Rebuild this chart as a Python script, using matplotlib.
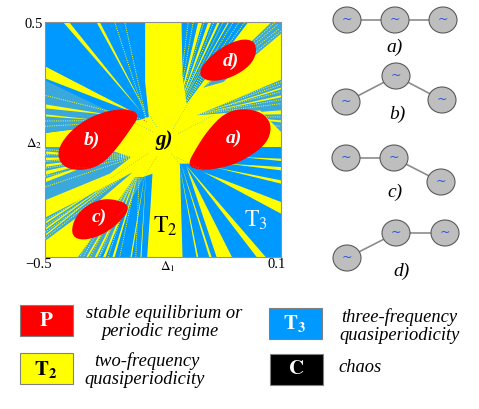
#!/usr/bin/env python3
"""Regime map on the (D1, D2) plane, chain sketches and colour key."""
import matplotlib
matplotlib.use("Agg")
import matplotlib.pyplot as plt
from matplotlib.patches import Ellipse, Polygon, Rectangle

plt.rcParams["font.family"] = ["Liberation Serif", "DejaVu Serif"]
plt.rcParams["mathtext.fontset"] = "stix"

RED = "#FF0000"
YELLOW = "#FFFF00"
BLUE = "#0099FF"
SPECKLE = "#3aa8dc"

# map extent, in units
X_EDGES = [136, 843]
Y_EDGES = [770, 65]

# blue sectors on the yellow ground
SECTOR_TL = [(136, 65), (436, 65), (436, 245), (447, 350), (400, 365), (136, 398)]
SECTOR_TR1 = [(545, 65), (745, 65), (560, 310), (548, 225)]
SECTOR_BR = [(843, 440), (843, 770), (548, 770), (540, 490), (570, 490), (700, 470), (780, 440)]
SECTOR_B = [(300, 770), (442, 770), (452, 620), (458, 520), (430, 530)]
SECTORS = [SECTOR_TL, SECTOR_TR1, SECTOR_BR, SECTOR_B]

# speckled sectors, a mix of blue and yellow
SPECK_TR2 = [(815, 65), (843, 65), (843, 100), (670, 245), (610, 262)]
SPECK_TR3 = [(843, 238), (843, 395), (780, 330), (590, 345)]
SPECK_B = [(235, 770), (300, 770), (430, 530), (405, 530)]
SPECK_L1 = [(136, 440), (136, 600), (330, 520), (395, 470), (300, 440)]
SPECK_L2 = [(136, 652), (136, 722), (300, 600), (400, 515)]
SPECK_TL = [(136, 240), (136, 398), (300, 375), (395, 365)]
SPECKS = [SPECK_TR2, SPECK_TR3, SPECK_B, SPECK_L1, SPECK_L2, SPECK_TL]

# yellow wedges: apex, then two points on the frame
WEDGE_APEX = [(425, 335), (438, 335), (410, 340), (340, 345), (300, 360),
              (530, 340), (530, 340), (530, 340), (530, 340),
              (610, 515), (555, 490), (560, 500), (540, 480), (640, 500), (680, 490), (720, 470), (535, 475),
              (425, 490), (425, 490), (425, 490), (425, 490), (440, 495), (440, 495),
              (330, 470), (330, 470), (330, 470), (330, 470), (330, 470),
              (380, 510), (380, 510), (380, 510),
              (600, 340), (600, 340), (640, 345), (640, 345)]
WEDGE_A = [(190, 65), (290, 65), (136, 198), (136, 312), (136, 342),
           (595, 65), (625, 65), (653, 65), (684, 65),
           (843, 605), (770, 770), (650, 770), (628, 770), (843, 540), (843, 500), (843, 475), (590, 770),
           (260, 770), (285, 770), (310, 770), (338, 770), (392, 770), (422, 770),
           (136, 453), (136, 472), (136, 492), (136, 512), (136, 535),
           (136, 665), (136, 684), (136, 703),
           (843, 262), (843, 285), (843, 330), (843, 360)]
WEDGE_B = [(208, 65), (300, 65), (136, 234), (136, 324), (136, 348),
           (607, 65), (635, 65), (660, 65), (688, 65),
           (843, 640), (797, 770), (696, 770), (635, 770), (843, 550), (843, 510), (843, 482), (595, 770),
           (266, 770), (292, 770), (318, 770), (345, 770), (396, 770), (425, 770),
           (136, 460), (136, 480), (136, 500), (136, 524), (136, 546),
           (136, 671), (136, 690), (136, 708),
           (843, 267), (843, 291), (843, 342), (843, 366)]

# dotted yellow fibres that make the speckled fans
DOT_APEX = [(530, 345), (530, 345), (530, 345), (530, 345), (530, 345), (530, 345), (530, 345), (530, 345),
            (620, 255), (640, 240), (660, 225), (675, 232),
            (570, 345), (570, 345), (570, 345), (570, 345), (570, 345), (570, 345), (570, 345),
            (420, 480), (420, 480), (420, 480), (420, 480), (420, 480), (420, 480), (420, 480),
            (420, 465), (420, 465), (420, 465), (420, 465), (420, 465), (420, 465),
            (400, 505), (400, 505), (400, 505), (400, 505),
            (440, 360), (440, 360), (440, 360), (440, 360), (440, 360)]
DOT_END = [(565, 65), (580, 65), (612, 65), (642, 65), (670, 65), (700, 65), (718, 65), (735, 65),
           (825, 65), (833, 72), (838, 85), (843, 92),
           (843, 245), (843, 254), (843, 274), (843, 298), (843, 310), (843, 350), (843, 378),
           (240, 770), (250, 770), (272, 770), (298, 770), (325, 770), (360, 770), (408, 770),
           (136, 448), (136, 463), (136, 483), (136, 503), (136, 528), (136, 560),
           (136, 660), (136, 678), (136, 696), (136, 715),
           (136, 285), (136, 362), (136, 378), (345, 65), (375, 65)]

# dotted blue fibres crossing the yellow near the centre
FIBRE_FROM = [(470, 380), (460, 395), (520, 385), (535, 400), (515, 460), (530, 470), (470, 470), (445, 460)]
FIBRE_TO = [(415, 285), (360, 345), (570, 300), (640, 345), (590, 560), (660, 540), (395, 595), (330, 535)]

# red regions
BLOB_A = [(568, 492), (590, 450), (625, 395), (675, 342), (730, 328), (785, 340), (810, 372),
          (803, 415), (770, 450), (705, 488), (630, 505), (590, 503)]
BLOB_B = [(416, 343), (380, 330), (325, 335), (260, 360), (205, 405), (176, 455), (190, 495),
          (240, 508), (300, 492), (345, 445), (385, 390)]
BLOB_C = [(390, 618), (340, 600), (298, 602), (252, 626), (224, 665), (220, 705), (250, 716),
          (302, 702), (352, 668)]
BLOB_D = [(600, 216), (628, 176), (675, 140), (725, 120), (760, 125), (766, 157), (748, 192),
          (705, 222), (655, 238), (618, 236)]
BLOBS = [BLOB_A, BLOB_B, BLOB_C, BLOB_D]
BLOB_LABELS = ["a)", "b)", "c)", "d)"]
BLOB_LABEL_X = [703, 277, 298, 692]
BLOB_LABEL_Y = [415, 420, 652, 183]

# red dust at the blob tips
DUST_FROM = [(572, 490), (580, 498), (412, 345), (405, 335), (600, 220), (385, 620), (230, 500)]
DUST_TO = [(615, 515), (630, 510), (440, 365), (380, 325), (580, 240), (350, 650), (275, 505)]

# chain sketches, figure pixels
CHAIN_X = [[347, 395, 443], [346, 396, 442], [346, 394, 441], [347, 396, 445]]
CHAIN_Y = [[20, 20, 20], [102, 76, 100], [158, 158, 182], [258, 233, 233]]
CHAIN_LABELS = ["a)", "b)", "c)", "d)"]
CHAIN_LABEL_X = [395, 397, 395, 402]
CHAIN_LABEL_Y = [47, 114, 192, 271]

# key
KEY_X = [20, 20, 269, 270]
KEY_Y = [305, 353, 308, 354]
KEY_COLOURS = [RED, YELLOW, BLUE, "black"]
KEY_TAGS = [r"$\mathbf{P}$", r"$\mathbf{T_2}$", r"$\mathbf{T_3}$", r"$\mathbf{C}$"]
KEY_TAG_COLOURS = ["white", "black", "white", "white"]
KEY_LINES = ["stable equilibrium or", "periodic regime", "two-frequency", "quasiperiodicity",
             "three-frequency", "quasiperiodicity", "chaos"]
KEY_LINE_X = [164, 160, 147, 145, 399, 400, 360]
KEY_LINE_Y = [313, 332, 361, 380, 317, 336, 367]


def smooth(pts, rounds=2):
    # corner cutting, keeps the outline
    for _ in range(rounds):
        out = []
        for i, (x0, y0) in enumerate(pts):
            x1, y1 = pts[(i + 1) % len(pts)]
            out.append((0.75 * x0 + 0.25 * x1, 0.75 * y0 + 0.25 * y1))
            out.append((0.25 * x0 + 0.75 * x1, 0.25 * y0 + 0.75 * y1))
        pts = out
    return pts


def draw_map(ax):
    ax.set_facecolor(YELLOW)
    for sector in SECTORS:
        ax.add_patch(Polygon(sector, fc=BLUE, ec="none", zorder=1))
    for sector in SPECKS:
        ax.add_patch(Polygon(sector, fc=SPECKLE, ec="none", zorder=1))
    for apex, a, b in zip(WEDGE_APEX, WEDGE_A, WEDGE_B):
        ax.add_patch(Polygon([apex, a, b], fc=YELLOW, ec="none", zorder=2))
    for apex, end in zip(DOT_APEX, DOT_END):
        ax.plot([apex[0], end[0]], [apex[1], end[1]], color=YELLOW, lw=0.7, ls=(0, (1, 1.3)), zorder=3)
    for a, b in zip(FIBRE_FROM, FIBRE_TO):
        ax.plot([a[0], b[0]], [a[1], b[1]], color="#55b8b0", lw=0.5, ls=(0, (1, 2.5)), zorder=3)
    for blob in BLOBS:
        ax.add_patch(Polygon(smooth(blob), fc=RED, ec=RED, lw=2, joinstyle="round", zorder=4))
    for a, b in zip(DUST_FROM, DUST_TO):
        ax.plot([a[0], b[0]], [a[1], b[1]], color="#d23c3c", lw=0.7, ls=(0, (1, 1.8)), zorder=4)
    for lab, x, y in zip(BLOB_LABELS, BLOB_LABEL_X, BLOB_LABEL_Y):
        ax.text(x, y, lab, color="white", fontsize=14, style="italic", weight="bold",
                ha="center", va="center", zorder=5)
    ax.text(493, 420, "g)", color="black", fontsize=15, style="italic", weight="bold",
            ha="center", va="center", zorder=5)
    ax.text(495, 678, r"$\mathrm{T_2}$", color="black", fontsize=17, ha="center", va="center", zorder=5)
    ax.text(768, 660, r"$\mathrm{T_3}$", color="white", fontsize=17, ha="center", va="center", zorder=5)

    ax.set_xlim(X_EDGES)
    ax.set_ylim(Y_EDGES)
    ax.set_xticks([])
    ax.set_yticks([])
    for s in ax.spines.values():
        s.set_color("#909090")
        s.set_linewidth(0.8)


def draw_chain(ov, xs, ys):
    ov.plot(xs, ys, color="#8c8c8c", lw=1.2, zorder=1)
    for x, y in zip(xs, ys):
        ov.add_patch(Ellipse((x, y), 28, 26, fc="#BEBEBE", ec="#5a5a5a", lw=0.8, zorder=2))
        ov.text(x, y - 1, "~", color="#2255dd", fontsize=9, ha="center", va="center", zorder=3,
                family="DejaVu Sans")


def main():
    fig = plt.figure(figsize=(4.79, 4.09), dpi=100, facecolor="white")
    ax = fig.add_axes([45 / 479, 1 - 257 / 409, 236 / 479, 235 / 409])
    draw_map(ax)

    ov = fig.add_axes([0, 0, 1, 1], facecolor="none")
    ov.set_xlim(0, 479)
    ov.set_ylim(409, 0)
    ov.axis("off")

    ov.text(25, 25, "0.5", fontsize=10.5, ha="left", va="center")
    ov.text(25, 265, "\u22120.5", fontsize=10.5, ha="left", va="center")
    ov.text(268, 264, "0.1", fontsize=10.5, ha="left", va="center")
    ov.text(168, 267, r"$\Delta_1$", fontsize=9.5, ha="center", va="center")
    ov.text(34, 144, r"$\Delta_2$", fontsize=9.5, ha="center", va="center")

    for xs, ys in zip(CHAIN_X, CHAIN_Y):
        draw_chain(ov, xs, ys)
    for lab, x, y in zip(CHAIN_LABELS, CHAIN_LABEL_X, CHAIN_LABEL_Y):
        ov.text(x, y, lab, fontsize=14, style="italic", ha="center", va="center")

    for x, y, c, tag, tc in zip(KEY_X, KEY_Y, KEY_COLOURS, KEY_TAGS, KEY_TAG_COLOURS):
        ov.add_patch(Rectangle((x, y), 53, 31, fc=c, ec="#808080", lw=0.8))
        ov.text(x + 26, y + 16, tag, color=tc, fontsize=15, ha="center", va="center")
    for t, x, y in zip(KEY_LINES, KEY_LINE_X, KEY_LINE_Y):
        ov.text(x, y, t, fontsize=13.3, style="italic", ha="center", va="center")

    fig.savefig("out.png", dpi=100)
    plt.close(fig)


if __name__ == "__main__":
    main()
